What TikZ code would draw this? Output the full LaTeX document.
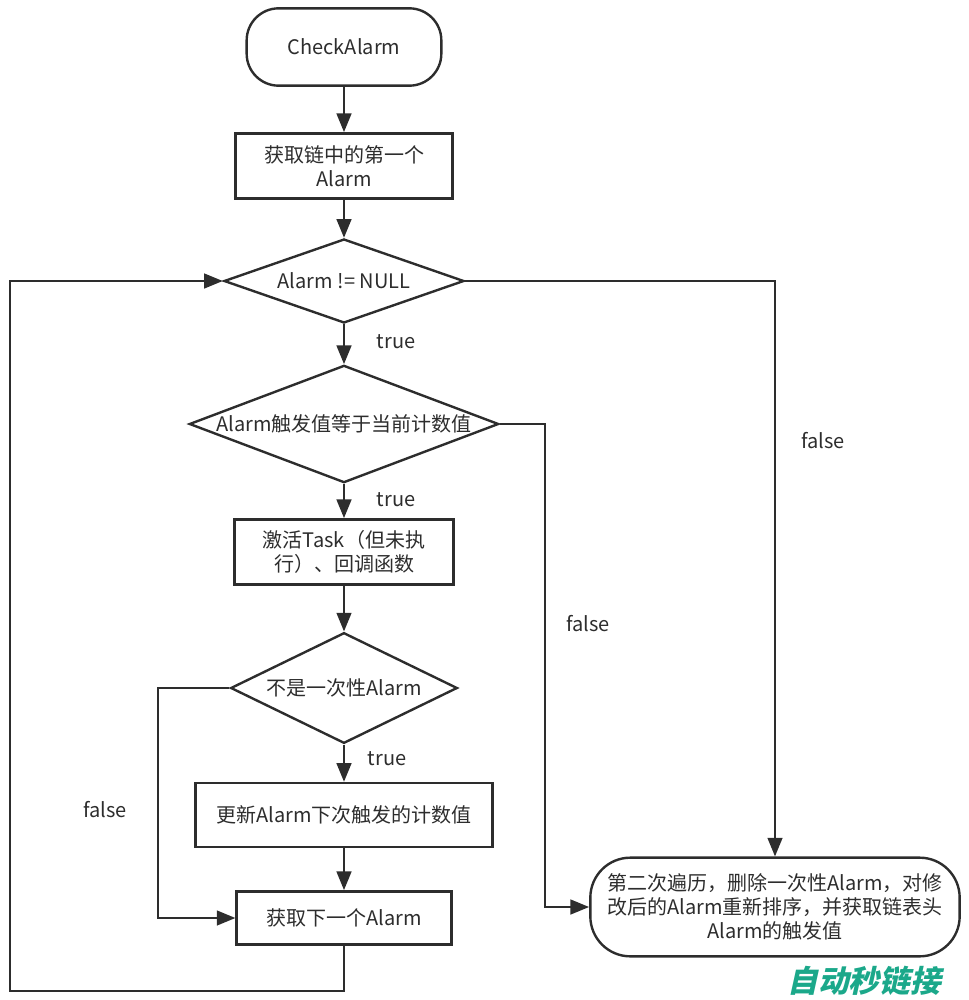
\documentclass[tikz,border=0pt]{standalone}
\usepackage{fontspec}
\setmainfont{Noto Sans CJK SC}
\newfontfamily\wmfont[FakeSlant=0.22]{Noto Sans CJK SC}
\usetikzlibrary{shapes.geometric,arrows.meta}
\definecolor{inkgray}{RGB}{45,45,45}
\definecolor{wmteal}{RGB}{27,168,138}
\tikzset{
  flowline/.style={draw=inkgray,line width=1.8pt},
  flowarrow/.style={flowline,-{Triangle[length=14pt,width=11pt]}},
  procbox/.style={draw=inkgray,line width=1.8pt,rectangle,align=center,text=inkgray,inner sep=0pt},
  termbox/.style={procbox,rounded corners=24pt},
  choice/.style={draw=inkgray,line width=1.8pt,diamond,inner sep=0pt,text=inkgray},
  edgelabel/.style={text=inkgray,inner sep=0.75pt}
}
\begin{document}
\begin{tikzpicture}[x=0.75pt,y=0.75pt,yscale=-1,xscale=1,font=\fontsize{15}{18}\selectfont]
\useasboundingbox (0,0) rectangle (968,1000);

%Shape: Rounded Rect 
\node [termbox,minimum width=146pt,minimum height=58pt] (start) at (344,47) {CheckAlarm};
%Shape: Rectangle 
\node [procbox,minimum width=163pt,minimum height=49pt] (first) at (344,166) {获取链中的第一个\\Alarm};
%Shape: Diamond 
\node [choice,minimum width=180pt,minimum height=63pt,aspect=2.86] (notnull) at (344,281) {Alarm != NULL};
%Shape: Diamond 
\node [choice,minimum width=232pt,minimum height=88pt,aspect=2.6] (equal) at (344,424) {Alarm触发值等于当前计数值};
%Shape: Rectangle 
\node [procbox,minimum width=164pt,minimum height=49pt] (activate) at (344,552) {激活Task（但未执\\行）、回调函数};
%Shape: Diamond 
\node [choice,minimum width=170pt,minimum height=83pt,aspect=2.04] (notonce) at (344,688) {不是一次性Alarm};
%Shape: Rectangle 
\node [procbox,minimum width=223pt,minimum height=48pt] (update) at (344,815) {更新Alarm下次触发的计数值};
%Shape: Rectangle 
\node [procbox,minimum width=161pt,minimum height=40pt] (next) at (344,918) {获取下一个Alarm};
%Shape: Rounded Rect 
\node [termbox,rounded corners=30pt,minimum width=277pt,minimum height=74pt] (resort) at (775,907) {第二次遍历，删除一次性Alarm，对修\\改后的Alarm重新排序，并获取链表头\\Alarm的触发值};

%Straight Lines 
\draw [flowarrow] (start) -- (first);
\draw [flowarrow] (first) -- (notnull);
\draw [flowarrow] (notnull) -- (equal);
\draw [flowarrow] (equal) -- (activate);
\draw [flowarrow] (activate) -- (notonce);
\draw [flowarrow] (notonce) -- (update);
\draw [flowarrow] (update) -- (next);

%Loop back 
\coordinate (loopcorner) at (10,991);
\draw [flowarrow] (next.south) |- (loopcorner) |- (notnull.west);
%Skip update 
\coordinate (skipcorner) at (158,800);
\draw [flowarrow] (notonce.west) -| (skipcorner) |- (next.west);
%Not equal 
\coordinate (uneqcorner) at (545,660);
\draw [flowarrow] (equal.east) -| (uneqcorner) |- (resort.west);
%Null 
\draw [flowarrow] (notnull.east) -| (resort.north);

% Text Node
\node [edgelabel] (true1) at (396,342) {true};
% Text Node
\node [edgelabel] (true2) at (396,500) {true};
% Text Node
\node [edgelabel] (true3) at (387,759) {true};
% Text Node
\node [edgelabel] (false1) at (823,441) {false};
% Text Node
\node [edgelabel] (false2) at (588,624) {false};
% Text Node
\node [edgelabel] (false3) at (105,810) {false};
% Text Node
\node [text=wmteal,inner sep=0pt,font=\wmfont\bfseries\fontsize{23}{23}\selectfont] (mark) at (864,981) {自动秒链接};

\end{tikzpicture}
\end{document}
